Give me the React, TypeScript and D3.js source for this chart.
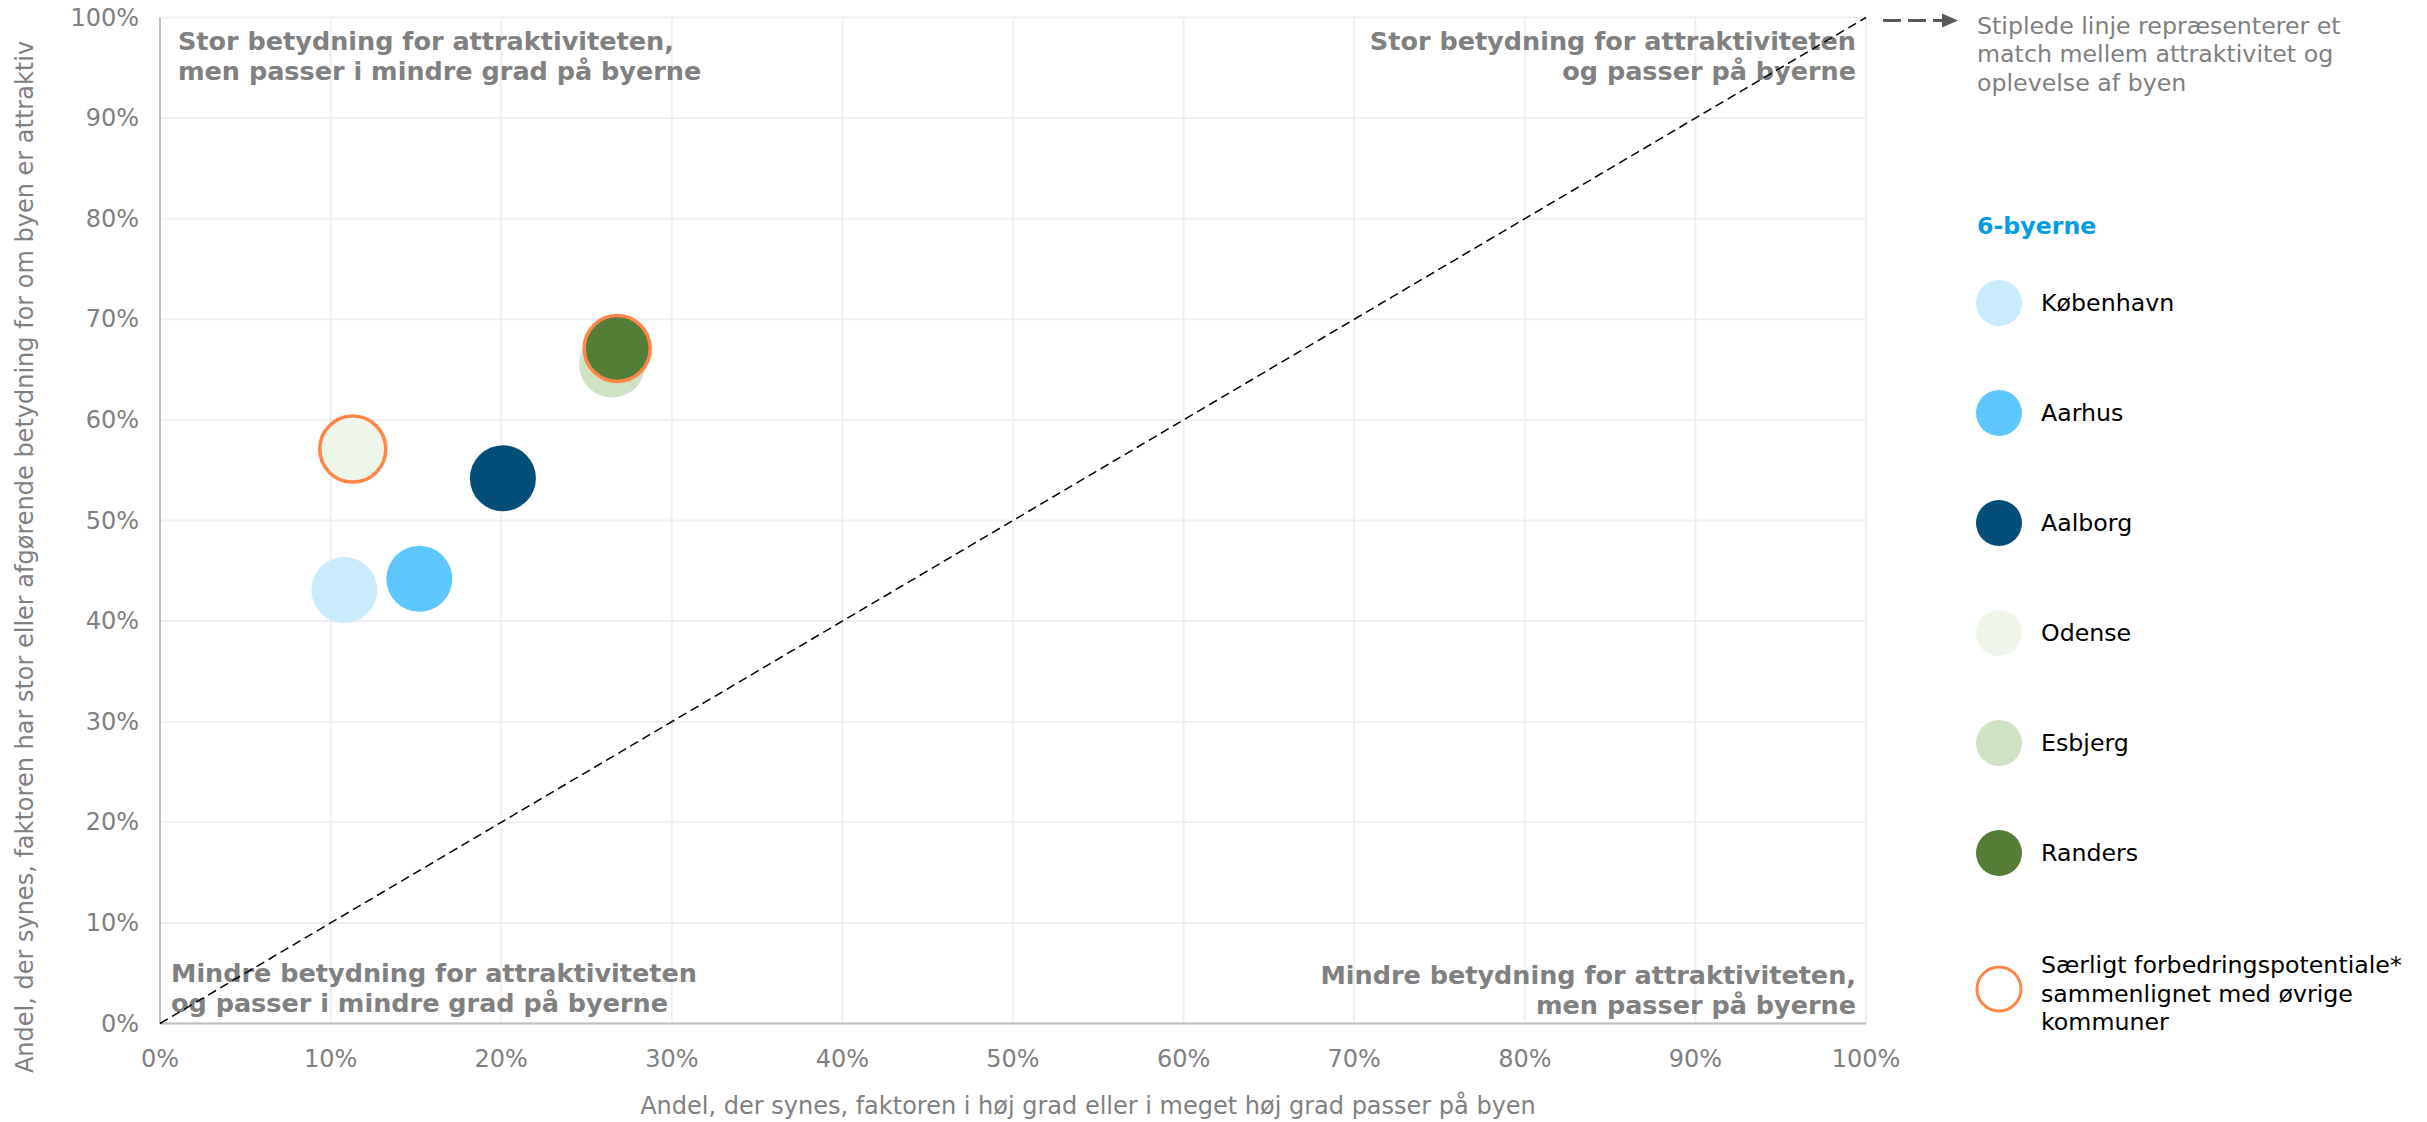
import React from 'react';
import * as d3 from 'd3';

const cities = ['København', 'Aarhus', 'Aalborg', 'Odense', 'Esbjerg', 'Randers'];
const xValues = [10.8, 15.2, 20.1, 11.3, 26.5, 26.8];
const yValues = [43.1, 44.2, 54.2, 57.1, 65.5, 67.1];
const cityColors = ['#C9EBFE', '#5EC7FF', '#034E78', '#EEF5E9', '#CFE3C4', '#547D37'];
const highlighted = ['Odense', 'Randers'];
const tickValues = [0, 10, 20, 30, 40, 50, 60, 70, 80, 90, 100];

const xTitle = 'Andel, der synes, faktoren i høj grad eller i meget høj grad passer på byen';
const yTitle = 'Andel, der synes, faktoren har stor eller afgørende betydning for om byen er attraktiv';
const quadTopLeft = ['Stor betydning for attraktiviteten,', 'men passer i mindre grad på byerne'];
const quadTopRight = ['Stor betydning for attraktiviteten', 'og passer på byerne'];
const quadBottomLeft = ['Mindre betydning for attraktiviteten', 'og passer i mindre grad på byerne'];
const quadBottomRight = ['Mindre betydning for attraktiviteten,', 'men passer på byerne'];
const diagonalNote = ['Stiplede linje repræsenterer et', 'match mellem attraktivitet og', 'oplevelse af byen'];
const legendTitle = '6-byerne';
const highlightLabel = ['Særligt forbedringspotentiale*', 'sammenlignet med øvrige', 'kommuner'];

const W = 2427;
const H = 1122;
const FONT = '"DejaVu Sans", Verdana, sans-serif';
const GRAY = '#808080';
const ORANGE = '#FF8548';

export default function App() {
  const x = d3.scaleLinear().domain([0, 100]).range([160, 1866]);
  const y = d3.scaleLinear().domain([0, 100]).range([1023.5, 17.5]);
  const fmt = (v: number) => `${v}%`;
  const diag = d3.line<number>().x((d) => x(d)).y((d) => y(d))([0, 100]) || '';

  const legendY = (i: number) => 303 + i * 110;
  const highlightY = 989;

  return (
    <svg
      width={W}
      height={H}
      style={{ position: 'absolute', left: 0, top: 0, background: '#fff' }}
      fontFamily={FONT}
    >
      <rect x={0} y={0} width={W} height={H} fill="#fff" />
      {/* grid */}
      {tickValues.map((t) => (
        <line key={'gx' + t} x1={x(t)} x2={x(t)} y1={y(0)} y2={y(100)} stroke="#EFEFEF" strokeWidth={2} />
      ))}
      {tickValues.map((t) => (
        <line key={'gy' + t} x1={x(0)} x2={x(100)} y1={y(t)} y2={y(t)} stroke="#EFEFEF" strokeWidth={2} />
      ))}
      {/* axes */}
      <line x1={x(0)} x2={x(0)} y1={y(0)} y2={y(100)} stroke="#BFBFBF" strokeWidth={2} />
      <line x1={x(0)} x2={x(100)} y1={y(0)} y2={y(0)} stroke="#BFBFBF" strokeWidth={2} />

      {/* tick labels */}
      {tickValues.map((t) => (
        <text key={'tx' + t} x={x(t)} y={1067} textAnchor="middle" fontSize={24} fill={GRAY}>
          {fmt(t)}
        </text>
      ))}
      {tickValues.map((t) => (
        <text key={'ty' + t} x={139} y={y(t)} textAnchor="end" dominantBaseline="central" fontSize={24} fill={GRAY}>
          {fmt(t)}
        </text>
      ))}

      {/* axis titles */}
      <text x={1088} y={1114} textAnchor="middle" fontSize={24} fill={GRAY}>
        {xTitle}
      </text>
      <text transform="translate(33,557) rotate(-90)" textAnchor="middle" fontSize={24} fill={GRAY}>
        {yTitle}
      </text>

      {/* quadrant labels */}
      <g fontSize={25.5} fontWeight="bold" fill={GRAY}>
        {quadTopLeft.map((s, i) => (
          <text key={'tl' + i} x={178} y={49.5 + i * 30}>{s}</text>
        ))}
        {quadTopRight.map((s, i) => (
          <text key={'tr' + i} x={1856} y={49.5 + i * 30} textAnchor="end">{s}</text>
        ))}
        {quadBottomLeft.map((s, i) => (
          <text key={'bl' + i} x={171} y={982 + i * 30}>{s}</text>
        ))}
        {quadBottomRight.map((s, i) => (
          <text key={'br' + i} x={1856} y={984 + i * 30} textAnchor="end">{s}</text>
        ))}
      </g>

      {/* diagonal */}
      <path d={diag} fill="none" stroke="#000" strokeWidth={1.5} strokeDasharray="9,5" />

      {/* bubbles */}
      {cities.map((c, i) => (
        <circle key={'c' + c} cx={x(xValues[i])} cy={y(yValues[i])} r={33} fill={cityColors[i]} />
      ))}
      {cities.map((c, i) =>
        highlighted.includes(c) ? (
          <circle key={'h' + c} cx={x(xValues[i])} cy={y(yValues[i])} r={33} fill="none" stroke={ORANGE} strokeWidth={3.5} />
        ) : null
      )}

      {/* legend: diagonal note */}
      <line x1={1883} x2={1944} y1={20.5} y2={20.5} stroke="#595959" strokeWidth={3} strokeDasharray="18,7" />
      <path d="M1942,13.5 L1958,20.5 L1942,27.5 Z" fill="#595959" />
      {diagonalNote.map((s, i) => (
        <text key={'dn' + i} x={1977} y={34 + i * 28.3} fontSize={23.7} fill={GRAY}>{s}</text>
      ))}

      {/* legend: cities */}
      <text x={1977} y={234} fontSize={23.7} fontWeight="bold" fill="#009DE0">{legendTitle}</text>
      {cities.map((c, i) => (
        <g key={'lg' + c}>
          <circle cx={1999} cy={legendY(i)} r={23} fill={cityColors[i]} />
          <text x={2041} y={legendY(i)} dominantBaseline="central" fontSize={23.7} fill="#000">{c}</text>
        </g>
      ))}
      <circle cx={1999} cy={highlightY} r={22} fill="#fff" stroke={ORANGE} strokeWidth={3} />
      {highlightLabel.map((s, i) => (
        <text key={'hl' + i} x={2041} y={973 + i * 28.5} fontSize={23.7} fill="#000">{s}</text>
      ))}
    </svg>
  );
}
